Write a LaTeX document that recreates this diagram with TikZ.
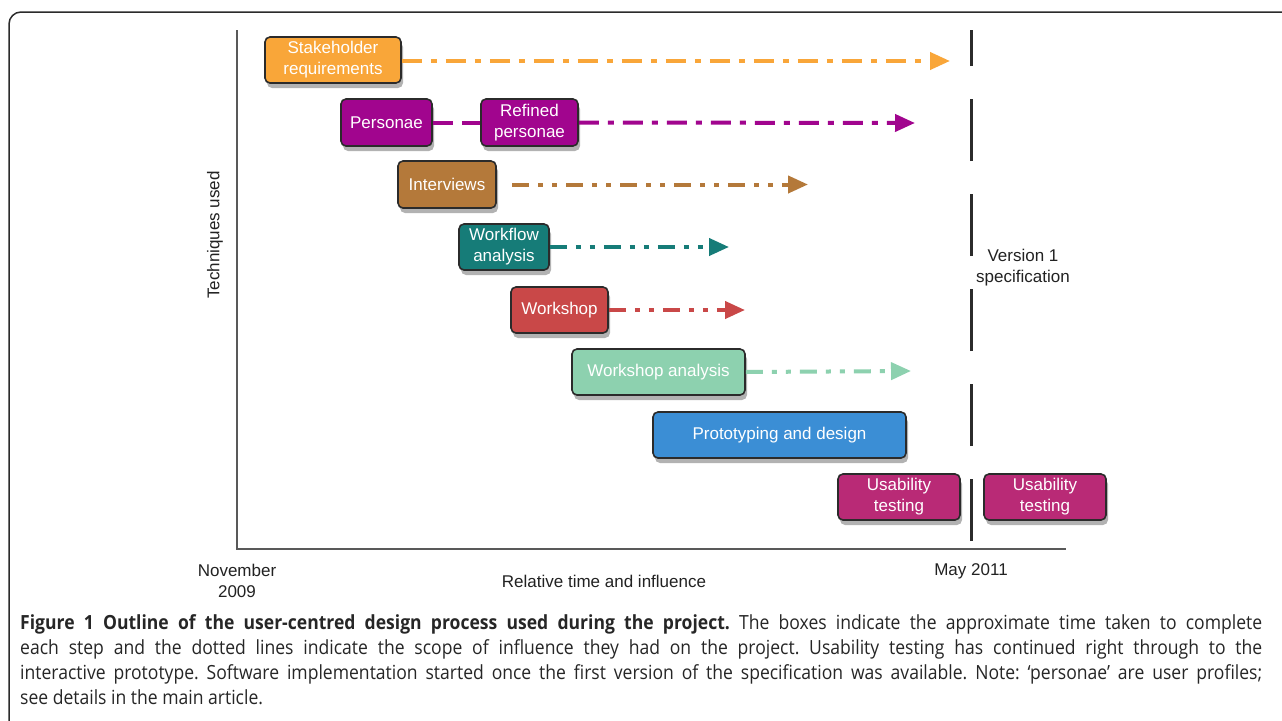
\documentclass[tikz,border=0pt]{standalone}
\usepackage{fontspec}
\setmainfont{Liberation Sans}
\newfontfamily\capfont[FakeStretch=0.9]{Open Sans}
\usetikzlibrary{arrows.meta,shadows,calc}
\definecolor{cOrange}{HTML}{F9A639}
\definecolor{cPurple}{HTML}{A1058E}
\definecolor{cBrown}{HTML}{B4793A}
\definecolor{cTeal}{HTML}{167C78}
\definecolor{cRed}{HTML}{C94848}
\definecolor{cMint}{HTML}{8DD1AF}
\definecolor{cBlue}{HTML}{3B8ED5}
\definecolor{cMagenta}{HTML}{B92A76}
\definecolor{cEdge}{HTML}{2B2B2B}
\definecolor{cText}{HTML}{222222}
\tikzset{
  tbox/.style={draw=cEdge, line width=1.6pt, rounded corners=5pt, text=white,
    align=center, inner sep=0pt, font=\fontsize{17}{21}\selectfont,
    drop shadow={shadow xshift=2pt, shadow yshift=-5pt, fill=black, opacity=0.3}},
  flow/.style={line width=4pt, -{Triangle[length=20pt,width=17pt]}},
  dashdot/.style={dash pattern=on 20pt off 9pt on 6pt off 9pt},
  dashdotdot/.style={dash pattern=on 17pt off 9pt on 5pt off 9pt on 5pt off 9pt},
  lbl/.style={text=cText, font=\fontsize{17}{21}\selectfont, align=center},
}
\begin{document}
\begin{tikzpicture}[x=1pt,y=-1pt]
\useasboundingbox (0,0) rectangle (1282,720);
\fill[white] (0,0) rectangle (1282,720);
% frame
\draw[cEdge, line width=1.5pt, rounded corners=12pt] (9,722) -- (9,12) -- (1290,12);
% axes
\coordinate (ytop) at (237,30);
\coordinate (origin) at (237,549);
\coordinate (xend) at (1066,549);
\draw[black!65, line width=1.6pt] (ytop) -- (origin) -- (xend);
% milestone line
\coordinate (mbot) at (971,541);
\coordinate (mtop) at (971,30);
\draw[cEdge, line width=3pt, dash pattern=on 62pt off 33pt] (mbot) -- (mtop);

% boxes
\node[tbox, fill=cOrange, minimum width=136pt, minimum height=46pt] (sh) at (333,60) {Stakeholder\\requirements};
\node[tbox, fill=cPurple, minimum width=91pt, minimum height=47pt] (pe) at (386.5,122.5) {Personae};
\node[tbox, fill=cPurple, minimum width=97pt, minimum height=47pt] (rp) at (529.5,122.5) {Refined\\personae};
\node[tbox, fill=cBrown, minimum width=98pt, minimum height=47pt] (iv) at (447,184.5) {Interviews};
\node[tbox, fill=cTeal, minimum width=90pt, minimum height=46pt] (wf) at (504,247) {Workflow\\analysis};
\node[tbox, fill=cRed, minimum width=97pt, minimum height=46pt] (ws) at (559.5,310) {Workshop};
\node[tbox, fill=cMint, minimum width=173pt, minimum height=46pt] (wa) at (658.5,372) {Workshop analysis};
\node[tbox, fill=cBlue, minimum width=253pt, minimum height=46pt] (pd) at (779.5,435) {Prototyping and design};
\node[tbox, fill=cMagenta, minimum width=122pt, minimum height=46pt] (ut1) at (899,497) {Usability\\testing};
\node[tbox, fill=cMagenta, minimum width=122pt, minimum height=46pt] (ut2) at (1045,497) {Usability\\testing};

% arrow ends
\coordinate (shE) at (950,61);
\coordinate (rpE) at (915,123);
\coordinate (ivS) at (512,184.5);
\coordinate (ivE) at (808,184.5);
\coordinate (wfE) at (729,247);
\coordinate (wsE) at (745,310);
\coordinate (waE) at (911,371);

\draw[flow, dashdot, cOrange] (sh.east |- shE) -- (shE);
\draw[line width=4pt, cPurple, dash pattern=on 20pt off 9pt] (pe.east) -- (rp.west);
\draw[flow, dashdot, cPurple] (rp.east) -- (rpE);
\draw[flow, dashdotdot, cBrown] (ivS) -- (ivE);
\draw[flow, dashdotdot, cTeal] (wf.east) -- (wfE);
\draw[flow, dashdotdot, cRed] (ws.east) -- (wsE);
\draw[flow, dashdotdot, cMint] (wa.east) -- (waE);

% labels
\node[lbl] (ver) at (1023,268) {Version 1\\specification};
\node[lbl, rotate=90] (tech) at (215,235) {Techniques used};
\node[lbl] (nov) at (237,581) {November\\2009};
\node[lbl] (rel) at (604,581) {Relative time and influence};
\node[lbl] (may) at (971,571) {May 2011};

% caption
\node[anchor=north west, inner sep=0pt, align=justify, text width=1242pt, text=black!85,
  font=\capfont\fontsize{19.5}{25}\selectfont\frenchspacing] (cap) at (20,614)
{\textbf{Figure 1 Outline of the user-centred design process used during the project.} The boxes indicate the approximate time taken to complete\linebreak
each step and the dotted lines indicate the scope of influence they had on the project. Usability testing has continued right through to the\linebreak
interactive prototype. Software implementation started once the first version of the specification was available. Note: ‘personae’ are user profiles;\linebreak
see details in the main article.};
\end{tikzpicture}
\end{document}
